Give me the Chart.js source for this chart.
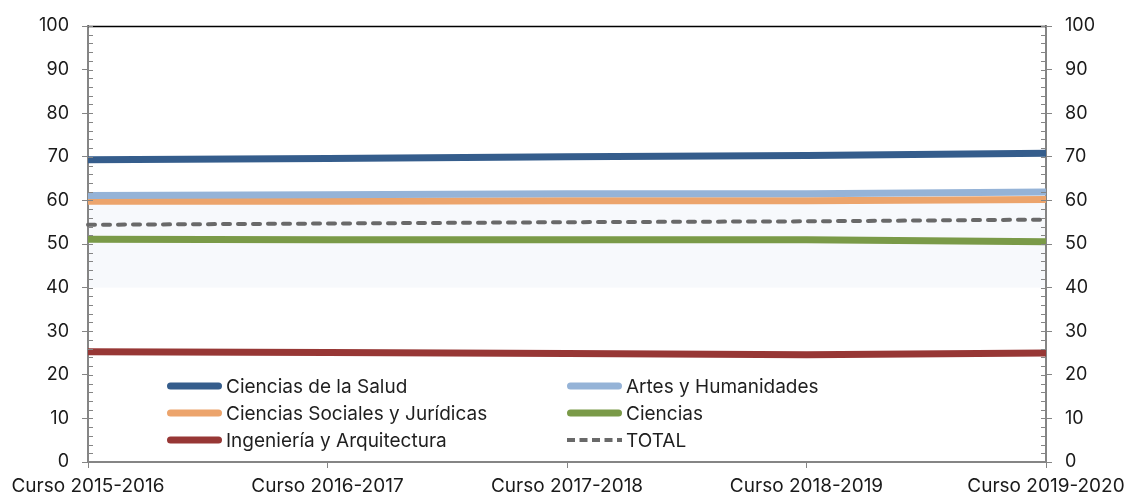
<!DOCTYPE html>
<html lang="es">
<head>
  <meta charset="UTF-8" />
  <title>Tasa por rama de conocimiento</title>
  <style>
    body { margin: 0; background: #fff; }
    #wrap { width: 1128px; height: 493px; position: relative; }
  </style>
</head>
<body>

<div id="wrap"><canvas id="graph"></canvas></div>

<script src="https://cdn.jsdelivr.net/npm/chart.js"></script>
<script>
// cursos (eje X)
const cursos = ["Curso 2015-2016", "Curso 2016-2017", "Curso 2017-2018", "Curso 2018-2019", "Curso 2019-2020"];

// valores
const salud      = [69.3, 69.6, 70.0, 70.3, 70.8];
const artes      = [61.1, 61.3, 61.5, 61.5, 61.9];
const sociales   = [59.8, 59.8, 59.9, 59.9, 60.2];
const ciencias   = [51.1, 51.0, 51.0, 51.0, 50.5];
const ingenieria = [25.3, 25.1, 24.9, 24.6, 25.0];
const total      = [54.4, 54.7, 55.0, 55.2, 55.6];

const FONT = "Inter";
const AXIS_GREY = "#858585";

function serie(label, data, color, dashed) {
  return {
    label: label,
    data: data,
    borderColor: color,
    backgroundColor: color,
    borderWidth: dashed ? 4 : 7,
    borderDash: dashed ? [7, 8] : [],
    borderCapStyle: dashed ? "round" : "butt",
    pointRadius: 0,
    tension: 0,
    fill: false,
    yAxisID: "y"
  };
}

// banda sombreada, borde superior, marcas menores y leyenda interior
const decor = {
  id: "decor",
  beforeDatasetsDraw(chart) {
    const ctx = chart.ctx;
    const { left, right } = chart.chartArea;
    const y = chart.scales.y;
    ctx.save();
    ctx.fillStyle = "#f7f9fc";
    const y1 = y.getPixelForValue(60), y0 = y.getPixelForValue(40);
    ctx.fillRect(left + 1, y1, right - left - 2, y0 - y1);
    ctx.restore();
  },
  afterDraw(chart) {
    const ctx = chart.ctx;
    const { left, right, top, bottom } = chart.chartArea;
    const y = chart.scales.y;
    ctx.save();
    // línea superior
    ctx.strokeStyle = "#000";
    ctx.lineWidth = 1.3;
    ctx.beginPath();
    ctx.moveTo(left, Math.round(top) + 0.5);
    ctx.lineTo(right, Math.round(top) + 0.5);
    ctx.stroke();
    // marcas menores (cada 2) hacia dentro
    ctx.strokeStyle = AXIS_GREY;
    ctx.lineWidth = 1;
    for (let v = 0; v <= 100; v += 2) {
      const py = Math.round(y.getPixelForValue(v)) + 0.5;
      ctx.beginPath();
      ctx.moveTo(left, py); ctx.lineTo(left + 5, py);
      ctx.moveTo(right - 5, py); ctx.lineTo(right, py);
      ctx.stroke();
    }
    // leyenda en dos columnas
    ctx.font = "19px " + FONT;
    ctx.fillStyle = "#1f1f1f";
    ctx.textBaseline = "middle";
    chart.data.datasets.forEach((ds, i) => {
      const col = i % 2, row = Math.floor(i / 2);
      const x = left + 79 + col * 400;
      const yy = bottom - 76 + row * 27;
      ctx.save();
      ctx.strokeStyle = ds.borderColor;
      ctx.lineWidth = ds.borderWidth;
      if (ds.borderDash.length) {
        ctx.setLineDash([8, 4.5]);
        ctx.lineCap = "butt";
        ctx.beginPath();
        ctx.moveTo(x, yy); ctx.lineTo(x + 55, yy);
      } else {
        ctx.lineCap = "round";
        ctx.beginPath();
        ctx.moveTo(x + 3.5, yy); ctx.lineTo(x + 51.5, yy);
      }
      ctx.stroke();
      ctx.restore();
      ctx.fillText(ds.label, x + 59, yy + 1);
    });
    ctx.restore();
  }
};

const yTicks = {
  min: 0, max: 100,
  ticks: { stepSize: 10, color: "#1a1a1a", font: { family: FONT, size: 18 }, padding: 13 },
  grid: { display: true, drawOnChartArea: false, drawTicks: true, tickLength: 6, color: AXIS_GREY, lineWidth: 1 },
  border: { display: true, color: AXIS_GREY, width: 2 }
};

const ctx = document.getElementById("graph").getContext("2d");
const chart = new Chart(ctx, {
  type: "line",
  data: {
    labels: cursos,
    datasets: [
      serie("Ciencias de la Salud", salud, "#355d8c", false),
      serie("Artes y Humanidades", artes, "#95b3d7", false),
      serie("Ciencias Sociales y Jurídicas", sociales, "#eca46c", false),
      serie("Ciencias", ciencias, "#7a9a48", false),
      serie("Ingeniería y Arquitectura", ingenieria, "#973735", false),
      serie("TOTAL", total, "#696969", true)
    ]
  },
  options: {
    responsive: true,
    maintainAspectRatio: false,
    animation: false,
    layout: { autoPadding: false, padding: { top: 26, left: 0, right: 0, bottom: 0 } },
    plugins: { legend: { display: false }, tooltip: { enabled: false } },
    scales: {
      x: {
        offset: false,
        ticks: { color: "#1a1a1a", font: { family: FONT, size: 19 }, padding: 7, maxRotation: 0, autoSkip: false },
        grid: { display: true, drawOnChartArea: false, drawTicks: true, tickLength: 6, color: AXIS_GREY, lineWidth: 1 },
        border: { display: true, color: AXIS_GREY, width: 2 },
        afterFit(s) { s.height = 31; s.paddingLeft = 0; s.paddingRight = 0; }
      },
      y: Object.assign({ position: "left", afterFit(s) { s.width = 88; } }, yTicks),
      y2: Object.assign({ position: "right", afterFit(s) { s.width = 82; } }, yTicks)
    }
  },
  plugins: [decor]
});
</script>

</body>
</html>
